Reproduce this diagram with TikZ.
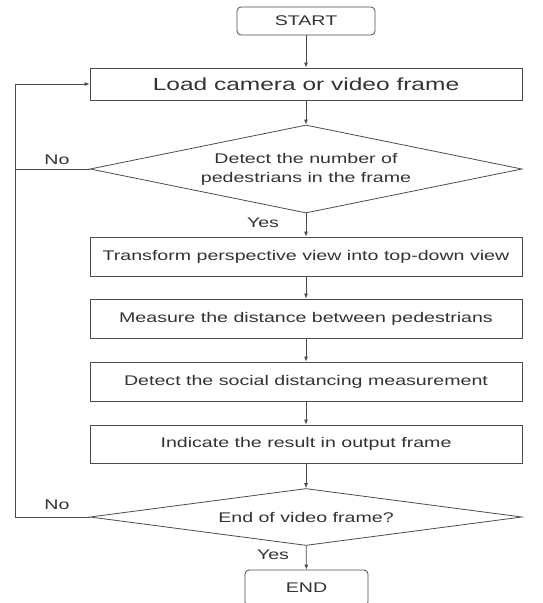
\documentclass[tikz,border=0pt]{standalone}
\usepackage{fontspec}
\usetikzlibrary{shapes}
\usetikzlibrary{arrows.meta}
\newfontfamily\chartfont[FakeStretch=1.4]{Liberation Sans}
\colorlet{flowline}{black!70}
\colorlet{flowtext}{black!80}
\tikzset{
  stepbox/.style={draw=flowline,line width=0.8pt,fill=white,rectangle,
    minimum width=432pt,inner sep=0pt,text=flowtext,
    font=\chartfont\fontsize{14}{19}\selectfont},
  termbox/.style={stepbox,rounded corners=4pt},
  decision/.style={stepbox,diamond,align=center},
  wire/.style={draw=flowline,line width=0.8pt},
  flow/.style={wire,-{Latex[length=5pt,width=4pt]}},
  tag/.style={text=flowtext,inner sep=0pt,
    font=\chartfont\fontsize{14}{17}\selectfont}
}

\begin{document}
\begin{tikzpicture}[x=1pt,y=-1pt]
    % Frame
    \clip (0,0) rectangle (542,603);
    % Boxes
    \node[termbox,minimum width=138pt,minimum height=28pt] (start) at (306,21) {START};
    \node[stepbox,minimum height=32pt,
      font=\chartfont\fontsize{17.5}{20}\selectfont] (load) at (306,84)
      {Load camera or video frame};
    \node[decision,aspect=4.9,minimum height=88pt] (people) at (306,169)
      {Detect the number of\\pedestrians in the frame};
    \node[stepbox,minimum height=39pt] (warp) at (306,256.5)
      {Transform perspective view into top-down view};
    \node[stepbox,minimum height=39pt] (measure) at (306,318.5)
      {Measure the distance between pedestrians};
    \node[stepbox,minimum height=39pt] (social) at (306,381.5)
      {Detect the social distancing measurement};
    \node[stepbox,minimum height=38pt] (result) at (306,444)
      {Indicate the result in output frame};
    \node[decision,aspect=7.6,minimum height=57pt] (lastframe) at (306,517)
      {End of video frame?};
    \node[termbox,minimum width=123pt,minimum height=36pt] (stop) at (306.5,588) {END};
    % Wires
    \draw[flow] (start) -- (load);
    \draw[flow] (load) -- (people);
    \draw[flow] (people) -- (warp);
    \draw[flow] (warp) -- (measure);
    \draw[flow] (measure) -- (social);
    \draw[flow] (social) -- (result);
    \draw[flow] (result) -- (lastframe);
    \draw[flow] (lastframe) -- (stop);
    \coordinate (loop) at (15,517);
    \draw[flow] (lastframe.west) -- (loop) |- (load.west);
    \draw[wire] (people.west) -- (people.west -| loop);
    % Labels
    \node[tag] (no1) at (57,160) {No};
    \node[tag] (yes1) at (263,223) {Yes};
    \node[tag] (no2) at (57,505) {No};
    \node[tag] (yes2) at (273,555) {Yes};
\end{tikzpicture}
\end{document}
